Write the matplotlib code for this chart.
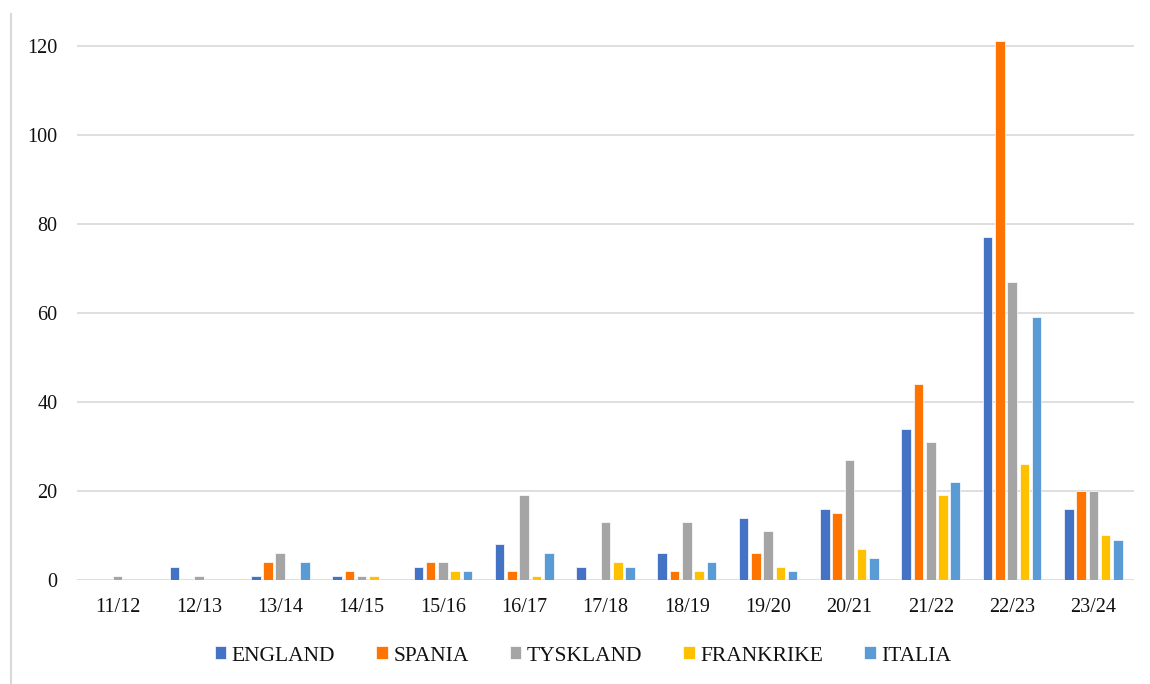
import numpy as np
import matplotlib
matplotlib.use("Agg")
import matplotlib.pyplot as plt
from matplotlib.lines import Line2D

seasons = ["11/12", "12/13", "13/14", "14/15", "15/16", "16/17", "17/18",
           "18/19", "19/20", "20/21", "21/22", "22/23", "23/24"]
england = [0, 3, 1, 1, 3, 8, 3, 6, 14, 16, 34, 77, 16]
spania = [0, 0, 4, 2, 4, 2, 0, 2, 6, 15, 44, 121, 20]
tyskland = [1, 1, 6, 1, 4, 19, 13, 13, 11, 27, 31, 67, 20]
frankrike = [0, 0, 0, 1, 2, 1, 4, 2, 3, 7, 19, 26, 10]
italia = [0, 0, 4, 0, 2, 6, 3, 4, 2, 5, 22, 59, 9]

series_names = ["ENGLAND", "SPANIA", "TYSKLAND", "FRANKRIKE", "ITALIA"]
series_values = [england, spania, tyskland, frankrike, italia]
colors = ["#4472C4", "#FF7300", "#A5A5A5", "#FFC000", "#5B9BD5"]
yticks = [0, 20, 40, 60, 80, 100, 120]

plt.rcParams["font.family"] = ["Liberation Serif", "DejaVu Serif"]

W, H = 1150, 684
fig = plt.figure(figsize=(W / 100, H / 100), dpi=100)
ax = fig.add_axes([77 / W, 104 / H, (1134 - 77) / W, 543 / H])

x = np.arange(len(seasons))
pitch = 0.151
width = 0.118
for i, (name, vals, c) in enumerate(zip(series_names, series_values, colors)):
    offs = (i - 2) * pitch
    ax.bar(x + offs, vals, width=width, color=c, edgecolor="white",
           linewidth=0.5, label=name, zorder=3)

ax.set_xlim(-0.5, len(seasons) - 0.5)
ax.set_ylim(0, 122)
ax.set_yticks(yticks)
ax.set_xticks(x)
ax.set_xticklabels(seasons)
for y in yticks:
    ax.axhline(y, color="#D9D9D9", linewidth=1.2, zorder=1)
for s in ax.spines.values():
    s.set_visible(False)
ax.tick_params(axis="y", length=0, pad=14, labelsize=14.5, labelcolor="#111111")
ax.tick_params(axis="x", length=0, pad=13, labelsize=14.5, labelcolor="#111111")

fig.legend(loc="center", bbox_to_anchor=(583 / W, 1 - 656 / H), ncol=5,
           frameon=False, fontsize=15.5, handlelength=0.55, handleheight=0.55,
           handletextpad=0.25, columnspacing=1.9, labelcolor="#111111")

fig.add_artist(Line2D([11 / W, 11 / W], [0, 1 - 14 / H], transform=fig.transFigure,
                      color="#D9D9D9", linewidth=1.5))

fig.savefig("out.png", dpi=100, facecolor="white")
